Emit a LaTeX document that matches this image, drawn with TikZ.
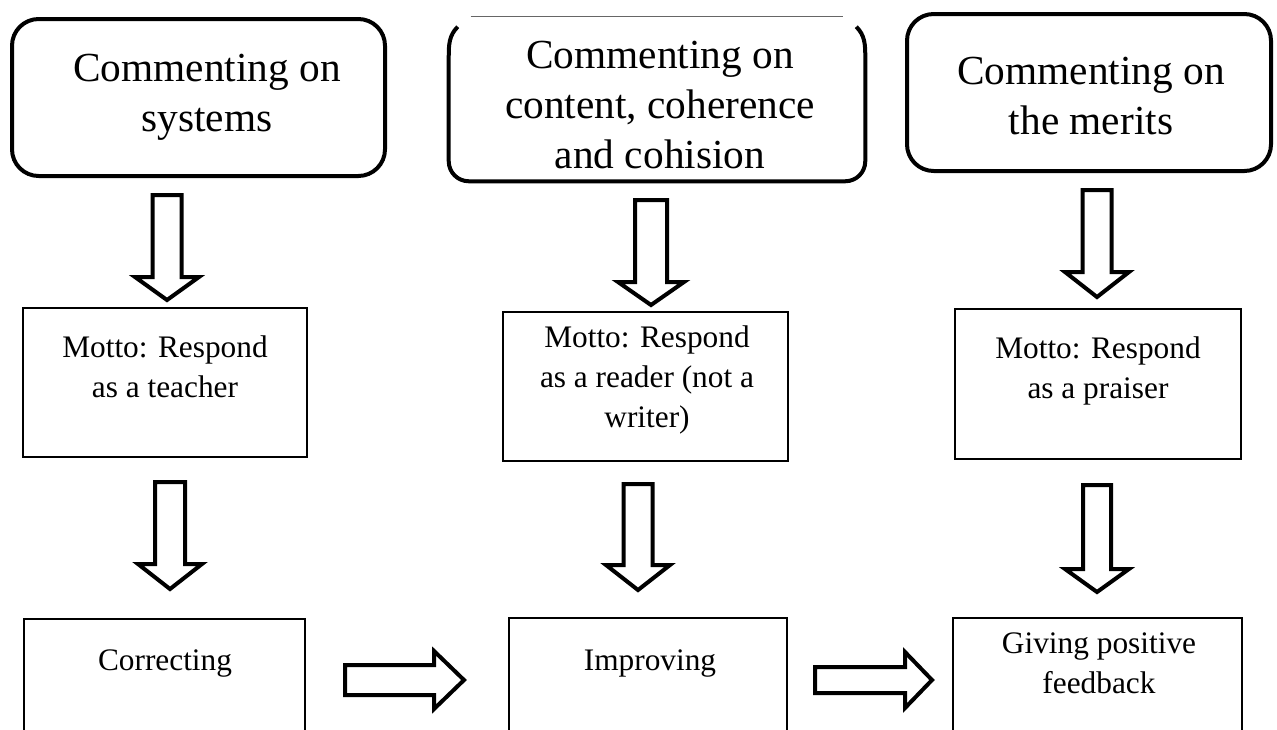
\documentclass[tikz,border=0pt]{standalone}
\usepackage{fontspec}
\setmainfont{Liberation Serif}
\usetikzlibrary{calc}
\newcommand\dnblock[6]{% cx, ytop, yhead, ytip, shafthalf, headhalf
  \draw[blockarrow] (#1-#5,#2) -- (#1+#5,#2) -- (#1+#5,#3) -- (#1+#6,#3) -- (#1,#4) -- (#1-#6,#3) -- (#1-#5,#3) -- cycle;}
\newcommand\rtblock[6]{% cy, xleft, xhead, xtip, shafthalf, headhalf
  \draw[blockarrow] (#2,#1-#5) -- (#3,#1-#5) -- (#3,#1-#6) -- (#4,#1) -- (#3,#1+#6) -- (#3,#1+#5) -- (#2,#1+#5) -- cycle;}
\begin{document}
\begin{tikzpicture}[x=0.75pt,y=-0.75pt,
  topbox/.style={draw, line width=3pt, rounded corners=20pt, inner sep=0pt},
  plainbox/.style={draw, line width=1.2pt, inner sep=0pt},
  boxsize/.style 2 args={minimum width={#1*0.75pt}, minimum height={#2*0.75pt}},
  toptext/.style={font=\fontsize{31}{37.5}\selectfont, align=center, inner sep=0pt},
  bodytext/.style={font=\fontsize{23.5}{30}\selectfont, align=center, inner sep=0pt},
  blockarrow/.style={draw, line width=3pt, fill=white, line join=miter, miter limit=10},
]
\useasboundingbox (0,0) rectangle (1277,729);
\clip (0,0) rectangle (1277,729);
\fill[white] (0,0) rectangle (1277,729);

% top row
\node[topbox, boxsize={373}{157}] (t1) at (198.5,97.5) {};
\node[toptext] (t1t) at (207,97) {Commenting on\\systems};

\node[inner sep=0pt, boxsize={416}{164}] (t2) at (657,99) {};
\draw[line width=0.8pt, black!60] ($(t2.north west)+(22,0)$) -- ($(t2.north east)+(-22,0)$);
\draw[line width=3pt] ($(t2.north west)+(9,10)$) to[out=225,in=90] ($(t2.north west)+(0,40)$)
  -- ($(t2.south west)+(0,-20)$) to[out=-90,in=180] ($(t2.south west)+(20,0)$)
  -- ($(t2.south east)+(-20,0)$) to[out=0,in=-90] ($(t2.south east)+(0,-20)$)
  -- ($(t2.north east)+(0,40)$) to[out=90,in=-45] ($(t2.north east)+(-9,10)$);
\node[toptext] (t2t) at (660,105) {Commenting on\\content, coherence\\and cohision};

\node[topbox, boxsize={364}{157}] (t3) at (1089,92.5) {};
\node[toptext] (t3t) at (1091,96.5) {Commenting on\\the merits};

% middle row
\node[plainbox, boxsize={284}{149}] (m1) at (165,382.5) {};
\node[bodytext] (m1t) at (165,367) {Motto: Respond\\as a teacher};
\node[plainbox, boxsize={285}{149}] (m2) at (645.5,386.5) {};
\node[bodytext] (m2t) at (647,380) {Motto: Respond\\as a reader (not a\\writer)};
\node[plainbox, boxsize={286}{150}] (m3) at (1098,384) {};
\node[bodytext] (m3t) at (1098,371) {Motto: Respond\\as a praiser};

% bottom row (cut off by the lower edge)
\node[plainbox, boxsize={281}{141}] (b1) at (164.5,689.5) {};
\node[bodytext] (b1t) at (165,663) {Correcting};
\node[plainbox, boxsize={278}{142}] (b2) at (648,689) {};
\node[bodytext] (b2t) at (650,663) {Improving};
\node[plainbox, boxsize={289}{142}] (b3) at (1097.5,689) {};
\node[bodytext] (b3t) at (1099,663.5) {Giving positive\\feedback};

% block arrows: top boxes to mottos
\dnblock{167}{195}{277}{300}{14.5}{32}
\dnblock{651}{200}{282}{305}{16}{33}
\dnblock{1097}{190}{272}{297}{14.5}{32}
% mottos to actions
\dnblock{170}{482}{564}{589}{15}{32}
\dnblock{638}{484}{565}{590}{14.5}{32}
\dnblock{1097}{485}{569}{592}{14}{32}
% between actions
\rtblock{680}{345}{434}{464}{15}{29}
\rtblock{680}{815}{905}{932}{13}{28}
\end{tikzpicture}
\end{document}
